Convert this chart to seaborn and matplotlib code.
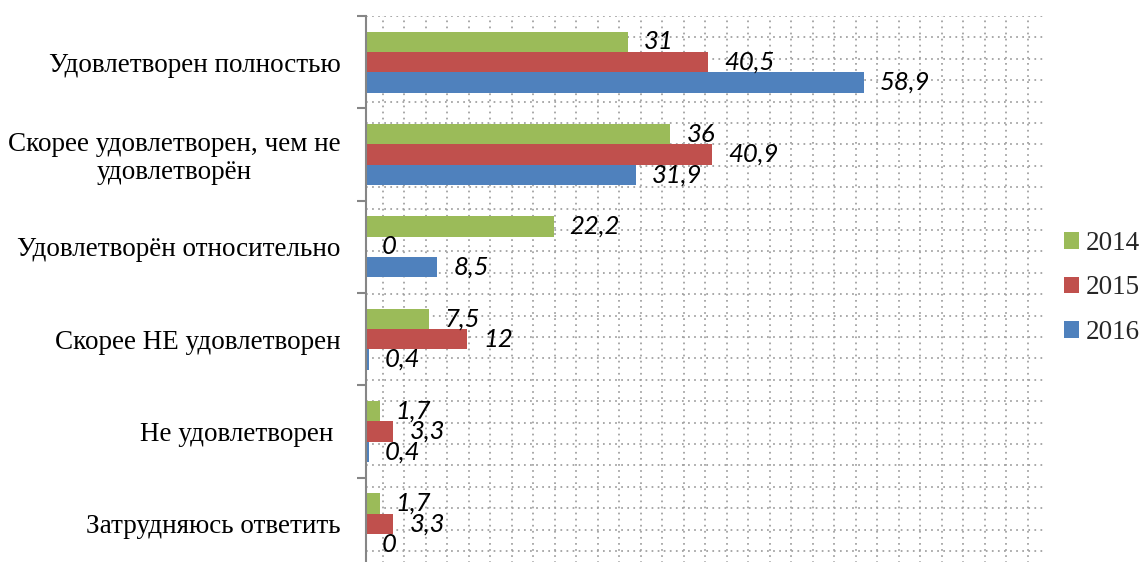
import numpy as np
import pandas as pd
import seaborn as sns
import matplotlib
matplotlib.use("Agg")
import matplotlib.pyplot as plt

categories = [
    "Удовлетворен полностью",
    "Скорее удовлетворен, чем не\nудовлетворён",
    "Удовлетворён относительно",
    "Скорее НЕ удовлетворен",
    "Не удовлетворен ",
    "Затрудняюсь ответить",
]
years = ["2014", "2015", "2016"]
v2014 = [31, 36, 22.2, 7.5, 1.7, 1.7]
v2015 = [40.5, 40.9, 0, 12, 3.3, 3.3]
v2016 = [58.9, 31.9, 8.5, 0.4, 0.4, 0]
colors = ["#9BBB59", "#C0504D", "#4F81BD"]

series = [v2014, v2015, v2016]
df = pd.DataFrame(
    [(c, y, v) for y, vals in zip(years, series) for c, v in zip(categories, vals)],
    columns=["category", "year", "value"],
)

sns.set_theme(style="white")
plt.rcParams["font.family"] = ["Liberation Serif", "DejaVu Serif"]

fig = plt.figure(figsize=(11.4, 5.62), dpi=100)
W, H = 1140, 562
x0, x1 = 365.5, 1043
ytop, band = 16, 92.33
ybot = ytop + 6 * band
ax = fig.add_axes([x0 / W, (H - ybot) / H, (x1 - x0) / W, (ybot - ytop) / H])

sns.barplot(data=df, x="value", y="category", hue="year", order=categories,
            hue_order=years, palette=colors, saturation=1, orient="h", width=0.66,
            errorbar=None, linewidth=0, ax=ax, zorder=3)

ax.set_xlim(0, 80)
ax.set_ylim(5.5, -0.5)

# dotted pattern grid
ux = 80 / (x1 - x0)
gx = [(382.7 - x0 + k * 21.5) * ux for k in range(31)]
gy = [-0.5 + k * 21.4 / band for k in range(27)]
grid_kw = dict(color="#9e9e9e", lw=1.25, linestyle=(0, (1, 2.5)), zorder=0)
for g in gx:
    ax.axvline(g, **grid_kw)
for g in gy:
    ax.axhline(g, **grid_kw)

def fmt(v):
    return f"{v:g}".replace(".", ",")

for cont, vals in zip(ax.containers, series):
    ax.bar_label(cont, labels=[fmt(v) for v in vals], padding=11.5,
                 fontstyle="italic", fontfamily="Lato", fontsize=18.5, color="black")

ax.set_xlabel("")
ax.set_ylabel("")
ax.tick_params(axis="x", bottom=False, labelbottom=False)
for s in ["top", "right", "bottom"]:
    ax.spines[s].set_visible(False)
ax.spines["left"].set_color("#868686")
ax.spines["left"].set_linewidth(1.5)
ax.spines["left"].set_zorder(4)

ax.set_yticks(np.arange(-0.5, 6, 1), minor=True)
ax.tick_params(axis="y", which="major", length=0, pad=18, labelsize=19.5, labelcolor="black")
ax.tick_params(axis="y", which="minor", length=6.5, width=1.5, color="#868686", left=True)
for lab in ax.get_yticklabels():
    lab.set_multialignment("center")
    lab.set_linespacing(1.15)

handles, labels = ax.get_legend_handles_labels()
if ax.get_legend() is not None:
    ax.get_legend().remove()
fig.legend(handles, labels, loc="center left", bbox_to_anchor=(1064 / W, 1 - 288 / H),
           frameon=False, fontsize=19.5, handlelength=0.55, handleheight=0.55,
           handletextpad=0.25, labelspacing=0.72, borderpad=0, borderaxespad=0)

fig.savefig("out.png", dpi=100)
